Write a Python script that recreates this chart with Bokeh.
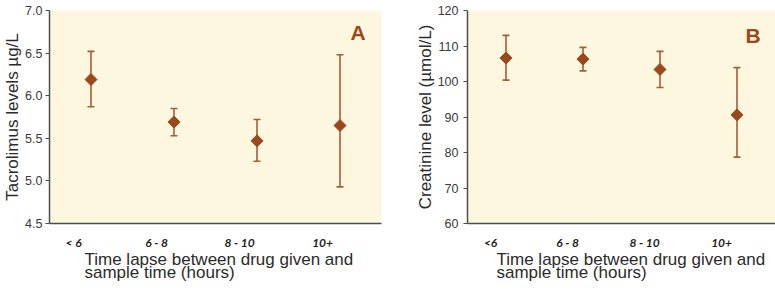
import numpy as np
from bokeh.plotting import figure
from bokeh.layouts import row
from bokeh.models import (ColumnDataSource, Whisker, TeeHead, LabelSet, Title,
                          Range1d, FixedTicker, NumeralTickFormatter)
from bokeh.core.properties import value
from bokeh.embed import file_html
from bokeh.resources import INLINE

# ---------------- data ----------------
cats_a = ["< 6", "6 - 8", "8 - 10", "10+"]
tac_mean = [6.19, 5.69, 5.47, 5.65]
tac_upper = [6.52, 5.85, 5.72, 6.48]
tac_lower = [5.87, 5.53, 5.23, 4.93]
tac_ticks = [4.5, 5.0, 5.5, 6.0, 6.5, 7.0]

cats_b = ["<6", "6 - 8", "8 - 10", "10+"]
cre_mean = [106.6, 106.3, 103.4, 90.6]
cre_upper = [113.0, 109.6, 108.5, 103.9]
cre_lower = [100.4, 103.0, 98.3, 78.7]
cre_ticks = [60, 70, 80, 90, 100, 110, 120]

x_title = "Time lapse between drug given and\nsample time (hours)"

# ---------------- styles ----------------
BG = "#fdf7df"
BROWN = "#9a481c"
BAR = "#a35d38"
AXIS = "#4d4d4d"
TEXT = "#2b2b2b"
H = 292


def panel(cats, mean, upper, lower, ticks, fmt, ylabel, letter, width,
          bl, br, bt, bb, lab_shift, lab_standoff, title_offset, title_standoff,
          letter_dx, letter_dy, tick_standoff):
    n = len(cats)
    xs = [i + 0.5 for i in range(n)]
    src = ColumnDataSource(dict(x=xs, mean=mean, upper=upper, lower=lower))
    p = figure(x_range=Range1d(0, n), y_range=Range1d(ticks[0], ticks[-1]),
               width=width, height=H, output_backend="svg",
               toolbar_location=None,
               min_border_left=bl, min_border_right=br,
               min_border_top=bt, min_border_bottom=bb)
    p.background_fill_color = BG
    p.border_fill_color = "white"
    p.outline_line_color = None
    p.grid.visible = False

    # category axis (labels sit a little left of the points, as in the original)
    lab_pos = [x - lab_shift for x in xs]
    xa = p.xaxis[0]
    xa.ticker = FixedTicker(ticks=lab_pos)
    xa.major_label_overrides = {t: c for t, c in zip(lab_pos, cats)}
    xa.axis_line_color = AXIS
    xa.axis_line_width = 1.5
    xa.major_tick_line_color = None
    xa.major_tick_out = 0
    xa.major_tick_in = 0
    xa.minor_tick_line_color = None
    xa.major_label_standoff = lab_standoff
    xa.major_label_text_font = "Lato"
    xa.major_label_text_font_style = "bold italic"
    xa.major_label_text_font_size = "12px"
    xa.major_label_text_color = "#1e1e1e"

    p.add_layout(Title(text=x_title, align="left", offset=title_offset,
                       standoff=title_standoff,
                       text_font="Liberation Sans", text_font_style="normal",
                       text_font_size="17px", text_line_height=0.68,
                       text_color=TEXT), "below")

    ya = p.yaxis[0]
    ya.ticker = FixedTicker(ticks=ticks)
    ya.formatter = NumeralTickFormatter(format=fmt)
    ya.axis_line_color = AXIS
    ya.axis_line_width = 1.5
    ya.major_tick_line_color = AXIS
    ya.major_tick_line_width = 1.2
    ya.major_tick_out = 4
    ya.major_tick_in = 0
    ya.minor_tick_line_color = None
    ya.major_label_text_font = "Liberation Sans"
    ya.major_label_text_font_size = "12.5px"
    ya.major_label_text_color = "#3a3a3a"
    ya.major_label_standoff = tick_standoff
    ya.axis_label = ylabel
    ya.axis_label_text_font = "Liberation Sans"
    ya.axis_label_text_font_style = "normal"
    ya.axis_label_text_font_size = "17px"
    ya.axis_label_text_color = TEXT
    ya.axis_label_standoff = 0

    whisk = Whisker(base="x", upper="upper", lower="lower", source=src,
                    line_color=BAR, line_width=1.6,
                    upper_head=TeeHead(size=7, line_color=BAR, line_width=1.6),
                    lower_head=TeeHead(size=7, line_color=BAR, line_width=1.6))
    p.add_layout(whisk)

    p.scatter("x", "mean", source=src, marker="square", angle=np.pi / 4,
              size=8.5, fill_color=BROWN, line_color=BROWN)

    lsrc = ColumnDataSource(dict(x=[xs[-1]], y=[ticks[-1]], t=[letter]))
    p.add_layout(LabelSet(x="x", y="y", text="t", source=lsrc,
                          x_offset=letter_dx, y_offset=letter_dy,
                          text_align="center", text_baseline="middle",
                          text_font=value("Liberation Sans"), text_font_style="bold",
                          text_font_size="21px", text_color=BROWN))
    return p


pa = panel(cats_a, tac_mean, tac_upper, tac_lower, tac_ticks, "0.0",
           "Tacrolimus levels µg/L", "A", 412, 48, 31, 10, H - 223,
           0.21, 11, 35, -9, 18, -22, 3)
pb = panel(cats_b, cre_mean, cre_upper, cre_lower, cre_ticks, "0",
           "Creatinine level (µmol/L)", "B", 363, 51, 0, 4, H - 229,
           0.20, 11, 29, -9, 16, -25, 5)

layout = row(pa, pb)
open("out.html", "w").write(file_html(layout, INLINE))
